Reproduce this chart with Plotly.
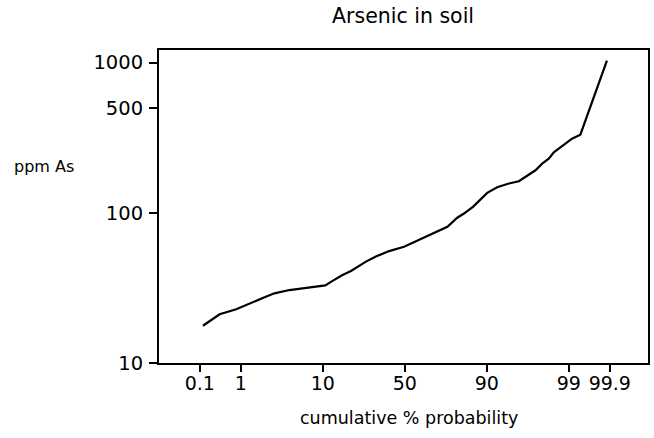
import plotly.graph_objects as go

# Cumulative probability axis: schematic probit-style scale,
# one unit per major step (50% at 0), half steps at the tails.
prob_tick_pos = [-2.5, -2.0, -1.0, 0.0, 1.0, 2.0, 2.5]
prob_tick_text = ["0.1", "1", "10", "50", "90", "99", "99.9"]

# Concentration axis ticks (log scale)
ppm_tick_vals = [10, 100, 500, 1000]
ppm_tick_text = ["10", "100", "500", "1000"]

# Cumulative distribution of arsenic in soil samples
plot_pos = [
    -2.462, -2.259, -2.056, -1.894, -1.732, -1.590, -1.489, -1.408, -1.246,
    -1.083, -0.970, -0.881, -0.766, -0.657, -0.576, -0.474, -0.353, -0.191,
    -0.009, 0.134, 0.296, 0.417, 0.519, 0.640, 0.721, 0.831, 0.925, 1.005,
    1.127, 1.269, 1.391, 1.492, 1.594, 1.675, 1.756, 1.817, 1.917, 1.990,
    2.039, 2.141, 2.282, 2.465,
]
ppm_as = [
    17.7, 21.1, 22.8, 25.0, 27.1, 29.1, 30.0, 30.6, 31.4,
    32.3, 32.9, 35.2, 38.4, 41.0, 43.8, 47.3, 51.1, 55.6,
    59.4, 64.7, 70.6, 76.7, 80.7, 92.7, 98.9, 109.6, 124.0, 135.8,
    147.9, 156.6, 162.2, 177.0, 191.9, 212.5, 229.4, 252.6, 276.6, 294.3,
    311.4, 331.0, 550.8, 1031.0,
]

W, H = 654, 438
ML, MR, MT, MB = 159, 4, 50, 75
PW, PH = W - ML - MR, H - MT - MB


def px_to_paper(px, py):
    return (px - ML) / PW, (H - MB - py) / PH


FONT = "DejaVu Sans"

fig = go.Figure()
fig.add_trace(go.Scatter(
    x=plot_pos, y=ppm_as, mode="lines",
    line=dict(color="black", width=2.2),
    showlegend=False, hoverinfo="skip",
))

fig.update_layout(
    width=W, height=H,
    margin=dict(l=ML, r=MR, t=MT, b=MB, pad=0),
    paper_bgcolor="white", plot_bgcolor="white",
    font=dict(family=FONT, size=19, color="black"),
    xaxis=dict(
        range=[-2.998, 2.966],
        tickmode="array", tickvals=prob_tick_pos, ticktext=prob_tick_text,
        ticks="outside", ticklen=7, tickwidth=1.5, tickcolor="black",
        ticklabelstandoff=-5,
        showline=True, linewidth=2, linecolor="black", mirror=True,
        showgrid=False, zeroline=False,
        tickfont=dict(family=FONT, size=19),
    ),
    yaxis=dict(
        type="log", range=[1.0, 3.084],
        tickmode="array", tickvals=ppm_tick_vals, ticktext=ppm_tick_text,
        ticks="outside", ticklen=8, tickwidth=1.5, tickcolor="black",
        ticklabelstandoff=2,
        showline=True, linewidth=2, linecolor="black", mirror=True,
        showgrid=False, zeroline=False,
        tickfont=dict(family=FONT, size=19.5),
    ),
)

tx, ty = px_to_paper(404, 16)
fig.add_annotation(text="Arsenic in soil", x=tx, y=ty, xref="paper", yref="paper",
                   showarrow=False, xanchor="center", yanchor="middle",
                   font=dict(family=FONT, size=20.5))

xx, xy = px_to_paper(410, 418)
fig.add_annotation(text="cumulative % probability", x=xx, y=xy, xref="paper", yref="paper",
                   showarrow=False, xanchor="center", yanchor="middle",
                   font=dict(family=FONT, size=17.5))

yx, yy = px_to_paper(44, 166)
fig.add_annotation(text="ppm As", x=yx, y=yy, xref="paper", yref="paper",
                   showarrow=False, xanchor="center", yanchor="middle",
                   font=dict(family=FONT, size=16))

fig.write_html("out.html")
